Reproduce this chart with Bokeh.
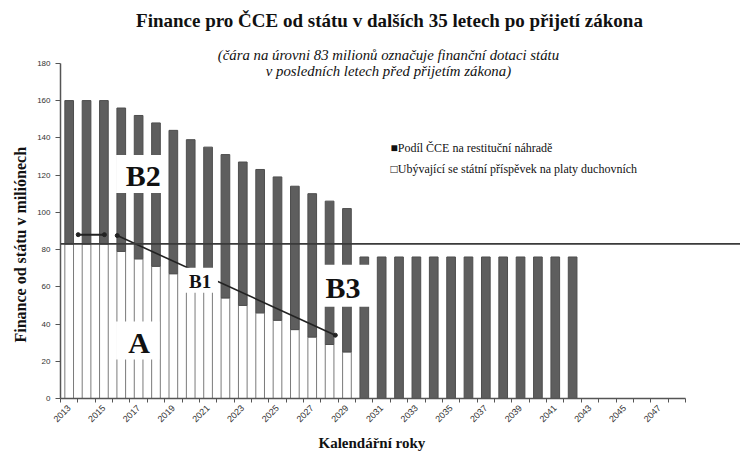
import math
from bokeh.plotting import figure
from bokeh.models import Range1d, FixedTicker, Span, Title
from bokeh.core.properties import value
from bokeh.embed import file_html
from bokeh.resources import INLINE

# ---------------- data ----------------
years = list(range(2013, 2043))
# ubývající státní příspěvek na platy duchovních (white part, mil. Kč)
prispevek = [83, 83, 83, 79, 75, 71, 67, 62, 58, 54, 50, 46, 42, 37, 33, 29, 25,
             0, 0, 0, 0, 0, 0, 0, 0, 0, 0, 0, 0, 0]
# podíl ČCE na restituční náhradě (dark part, mil. Kč)
restituce = [77, 77, 77, 77, 77, 77, 77, 77, 77, 77, 77, 77, 77, 77, 77, 77, 77,
             76, 76, 76, 76, 76, 76, 76, 76, 76, 76, 76, 76, 76]
tick_years = [2013, 2015, 2017, 2019, 2021, 2023, 2025, 2027, 2029, 2031, 2033,
              2035, 2037, 2039, 2041, 2043, 2045, 2047]
y_ticks = [0, 20, 40, 60, 80, 100, 120, 140, 160, 180]
dotace_pred_zakonem = 83

title_text = "Finance pro ČCE od státu v dalších 35 letech po přijetí zákona"
subtitle_1 = "(čára na úrovni 83 milionů označuje finanční dotaci státu"
subtitle_2 = "v posledních letech před přijetím zákona)"
legend_dark = "Podíl ČCE na restituční náhradě"
legend_light = "Ubývající se státní příspěvek na platy duchovních"
y_label = "Finance od státu v miliónech"
x_label = "Kalendářní roky"

SERIF = "Liberation Serif"
SANS = "Liberation Sans"

# frame covers the whole top part of the canvas; axes are bounded to the data area
p = figure(width=740, height=455, output_backend="svg", toolbar_location=None,
           x_range=Range1d(2012.5, 2051.67), y_range=Range1d(0, 213.75),
           min_border_left=60, min_border_right=0, min_border_top=0,
           min_border_bottom=56)
p.outline_line_color = None
p.grid.visible = False

# white bars (state contribution)
wx = [y for y, w in zip(years, prispevek) if w > 0]
wt = [w for w in prispevek if w > 0]
p.vbar(x=wx, bottom=0, top=wt, width=0.5, fill_color="white",
       line_color="#7a7a7a", line_width=1)
# dark bars (restitution)
tops = [a + b for a, b in zip(prispevek, restituce)]
p.vbar(x=years, bottom=prispevek, top=tops, width=0.5, fill_color="#5e5e5e",
       line_color="#4e4e4e", line_width=1)

# B1 annotation line
p.line([2013.52, 2015.03], [88, 88], line_color="#222222", line_width=2)
p.line([2015.77, 2028.33], [87.5, 34], line_color="#222222", line_width=1.6)
p.scatter([2013.52, 2015.03, 2015.77, 2028.33], [88, 88, 87.5, 34], size=4,
          fill_color="#222222", line_color="#222222")

# white label boxes
p.quad(left=[2015.7, 2015.7, 2019.56, 2027.33], right=[2018.47, 2018.2, 2021.57, 2030.4],
       bottom=[110.4, 20.9, 56.8, 49.3], top=[130.8, 41.3, 70.2, 71.8],
       fill_color="white", line_color=None)

def txt(x, y, text, size, style="normal", align="center", font=SERIF, color="#111111"):
    p.text(x=[x], y=[y], text=[text], text_font=value(font), text_font_size=size,
           text_font_style=style, text_align=align, text_baseline="middle",
           text_color=color)

txt(2017.26, 119.5, "B2", "30px", "bold")
txt(2017.03, 30, "A", "30px", "bold")
txt(2028.77, 59.5, "B3", "30px", "bold")
txt(2020.54, 63, "B1", "19px", "bold")

# 83 million line
p.add_layout(Span(location=dotace_pred_zakonem, dimension="width",
                  line_color="#3a3a3a", line_width=1.8))

# title, subtitle and legend (inside the frame area above the data)
txt(2031.45, 203.0, title_text, "19px", "bold")
txt(2031.39, 184.3, subtitle_1, "14.8px", "italic")
txt(2031.39, 176.0, subtitle_2, "14.8px", "italic")
txt(2031.51, 134.5, "■" + legend_dark, "12px", align="left")
txt(2031.51, 123.5, "□" + legend_light, "12px", align="left")

# axes
xa = p.xaxis[0]
xa.ticker = FixedTicker(ticks=tick_years,
                        minor_ticks=[y + 0.5 for y in range(2012, 2049)])
xa.bounds = (2012.5, 2048.5)
xa.major_tick_in = 0
xa.major_tick_out = 0
xa.minor_tick_in = 0
xa.minor_tick_out = 4
xa.major_label_orientation = math.pi / 4
xa.major_label_text_font = SANS
xa.major_label_text_font_size = "9px"
xa.major_label_text_color = "#333333"
xa.axis_line_color = "#555555"
xa.axis_line_width = 1.5
xa.minor_tick_line_color = "#555555"
xa.major_label_standoff = 4

ya = p.yaxis[0]
ya.ticker = FixedTicker(ticks=y_ticks)
ya.bounds = (0, 180)
ya.major_tick_in = 0
ya.major_tick_out = 5
ya.minor_tick_out = 0
ya.major_label_text_font = SANS
ya.major_label_text_font_size = "8px"
ya.major_label_text_color = "#333333"
ya.axis_line_color = "#555555"
ya.axis_line_width = 1.5
ya.major_tick_line_color = "#555555"

# axis titles, centred on the bounded axes
p.add_layout(Title(text=x_label, align="left", offset=258, text_font=SERIF,
                   text_font_style="bold", text_font_size="15px",
                   text_color="#111111", standoff=10), "below")
p.add_layout(Title(text=y_label, align="left", offset=56, text_font=SERIF,
                   text_font_style="bold", text_font_size="16px",
                   text_color="#111111", standoff=12), "left")

open("out.html", "w").write(file_html(p, INLINE))
